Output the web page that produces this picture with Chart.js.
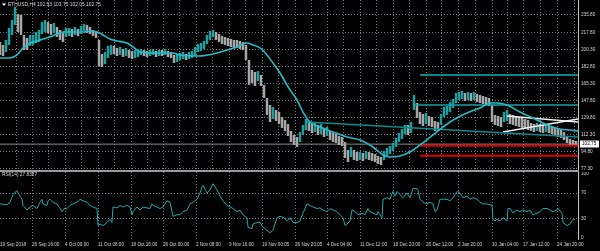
<!DOCTYPE html>
<html>
<head>
<meta charset="utf-8">
<script src="https://cdn.jsdelivr.net/npm/chart.js@4.4.1/dist/chart.umd.min.js"></script>
<style>
  html, body { margin: 0; padding: 0; background: #000; }
  #wrap { position: relative; width: 600px; height: 251px; overflow: hidden; background: #000; }
  #price { position: absolute; left: 0; top: 0; }
  #sep { position: absolute; left: 0; top: 170px; width: 579px; height: 2px; background: #9a9a9a; }
  #rsi { position: absolute; left: 0; top: 172px; }
</style>
</head>
<body>
<div id="wrap">
  <canvas id="price" width="600" height="170"></canvas>
  <div id="sep"></div>
  <canvas id="rsi" width="600" height="79"></canvas>
</div>
<script>
// ETHUSD H4, 19 Sep 2018 - 28 Jan 2019 (one sample per 3 bars)
const symbolTitle = 'ETHUSD,H4';
const lastBar = [102.53, 103.75, 102.05, 102.75]; // open high low close

const priceTicks = [77.3, 94.8, 112.3, 129.8, 147.8, 165.3, 182.8, 200.3, 217.8, 235.8];
const rsiTicks = [0, 30, 70, 100];

const timeTickX = [0, 32, 65, 98, 131, 163, 196, 229, 262, 295, 327, 360, 393, 426, 458, 492, 523, 557];
const timeLabels = ['19 Sep 2018', '26 Sep 16:00', '4 Oct 00:00', '11 Oct 08:00', '18 Oct 16:00',
  '26 Oct 00:00', '2 Nov 08:00', '9 Nov 16:00', '19 Nov 00:05', '26 Nov 20:05', '4 Dec 04:00',
  '11 Dec 12:00', '18 Dec 20:00', '26 Dec 12:00', '2 Jan 20:00', '10 Jan 04:00', '17 Jan 12:00',
  '24 Jan 20:00'];

const barStep = 3;
const barHigh = [
  207.9, 204.9, 210.0, 222.4, 230.6, 244.0, 236.8, 235.8, 215.2, 212.1,
  215.2, 215.2, 218.2, 220.3, 228.5, 230.6, 228.5, 226.5, 227.5, 223.4,
  220.3, 217.2, 222.4, 222.4, 221.3, 223.4, 221.3, 224.4, 226.5, 225.5,
  223.4, 220.3, 219.3, 210.0, 195.6, 197.6, 203.8, 204.9, 203.8, 201.8,
  202.8, 200.7, 201.8, 199.7, 198.7, 199.7, 199.7, 200.7, 199.7, 198.7,
  199.7, 200.7, 198.7, 199.7, 199.7, 200.7, 198.7, 197.6, 194.6, 195.6,
  196.6, 197.6, 195.6, 197.6, 198.7, 202.8, 205.9, 206.9, 209.0, 215.2,
  219.3, 220.3, 218.2, 216.2, 214.1, 213.1, 212.1, 211.0, 210.0, 210.0,
  209.0, 207.9, 204.9, 189.4, 179.1, 177.0, 178.1, 174.0, 163.7, 150.3,
  143.1, 141.0, 137.9, 135.8, 130.7, 127.6, 123.5, 116.3, 112.2, 110.1,
  115.2, 122.5, 128.6, 126.6, 124.5, 125.5, 122.5, 123.5, 119.4, 120.4,
  116.3, 114.2, 113.2, 111.1, 110.1, 104.9, 96.7, 99.8, 96.7, 94.6,
  94.6, 93.6, 95.7, 94.6, 93.6, 92.6, 90.5, 89.5, 95.7, 98.8,
  100.8, 103.9, 109.1, 114.2, 118.3, 122.5, 122.5, 125.5, 153.4, 145.1,
  135.8, 133.8, 134.8, 131.7, 130.7, 126.6, 125.5, 133.8, 141.0, 142.0,
  146.1, 149.2, 155.4, 156.4, 157.5, 155.4, 156.4, 155.4, 156.4, 154.4,
  153.4, 152.3, 151.3, 150.3, 143.1, 132.8, 131.7, 130.7, 135.8, 137.9,
  133.8, 132.8, 131.7, 130.7, 129.7, 128.6, 127.6, 124.5, 123.5, 124.5,
  123.5, 122.5, 122.5, 121.4, 121.4, 120.4, 118.3, 117.3, 115.2, 111.1,
  108.0, 107.0, 106.0
];
const barLow = [
  194.6, 193.5, 197.6, 204.9, 215.2, 225.5, 218.2, 215.2, 199.7, 199.7,
  203.8, 204.9, 206.9, 207.9, 216.2, 218.2, 217.2, 215.2, 217.2, 213.1,
  210.0, 207.9, 213.1, 214.1, 213.1, 215.2, 214.1, 216.2, 219.3, 217.2,
  216.2, 214.1, 212.1, 183.2, 182.2, 185.3, 191.5, 194.6, 195.6, 193.5,
  194.6, 192.5, 193.5, 191.5, 190.4, 191.5, 192.5, 194.6, 193.5, 192.5,
  193.5, 194.6, 192.5, 193.5, 193.5, 194.6, 192.5, 191.5, 186.3, 187.3,
  189.4, 190.4, 189.4, 190.4, 191.5, 193.5, 197.6, 198.7, 200.7, 205.9,
  210.0, 213.1, 210.0, 207.9, 205.9, 204.9, 203.8, 202.8, 201.8, 201.8,
  200.7, 199.7, 189.4, 163.7, 165.7, 162.6, 167.8, 162.6, 150.3, 132.8,
  125.5, 128.6, 126.6, 123.5, 119.4, 116.3, 111.1, 104.9, 101.9, 99.8,
  104.9, 112.2, 117.3, 116.3, 114.2, 115.2, 112.2, 113.2, 110.1, 111.1,
  107.0, 104.9, 103.9, 101.9, 100.8, 88.5, 84.3, 89.5, 86.4, 85.4,
  86.4, 85.4, 87.4, 86.4, 85.4, 84.3, 82.3, 81.2, 86.4, 90.5,
  92.6, 95.7, 99.8, 104.9, 108.0, 113.2, 112.2, 114.2, 137.9, 129.7,
  123.5, 121.4, 123.5, 121.4, 120.4, 116.3, 116.3, 122.5, 130.7, 132.8,
  135.8, 140.0, 145.1, 148.2, 149.2, 147.2, 148.2, 147.2, 148.2, 146.1,
  145.1, 144.1, 143.1, 142.0, 125.5, 122.5, 121.4, 120.4, 125.5, 126.6,
  123.5, 122.5, 121.4, 120.4, 119.4, 118.3, 117.3, 116.3, 115.2, 116.3,
  115.2, 114.2, 115.2, 114.2, 113.2, 112.2, 110.1, 109.1, 107.0, 103.9,
  101.9, 101.9, 101.9
];
const barX = barHigh.map((_, i) => i * barStep);

// moving average
const maX = [0, 10, 17, 23, 30, 37, 43, 50, 57, 63, 70, 83, 90, 97, 103, 110, 117, 127, 133, 140,
  147, 167, 173, 180, 200, 213, 227, 237, 247, 253, 260, 267, 273, 280, 287, 290, 297, 303, 310, 320,
  333, 347, 360, 373, 383, 390, 400, 410, 420, 433, 450, 467, 480, 490, 497, 507, 520, 533, 547, 560,
  570, 578];
const maVal = [191.5, 191.5, 194.6, 201.8, 206.9, 209.0, 211.0, 213.1, 216.2, 218.2,
  218.2, 218.2, 219.3, 218.2, 215.2, 211.0, 209.0, 206.9, 202.8, 197.6,
  196.6, 196.6, 196.6, 194.6, 193.5, 195.6, 199.7, 202.8, 206.9, 204.9,
  201.8, 194.6, 186.3, 176.0, 163.7, 158.6, 148.2, 135.8, 125.5, 120.4,
  115.2, 110.1, 107.0, 99.8, 91.6, 89.5, 90.5, 94.6, 101.9, 112.2,
  125.5, 134.8, 140.0, 145.1, 145.1, 143.1, 135.8, 129.7, 122.5, 118.3,
  117.3, 116.3];

// RSI(14)
const rsiLast = '27.8387';
const rsiX = [0, 7, 10, 13, 17, 18, 20, 22, 23, 27,
  30, 33, 37, 40, 42, 43, 47, 48, 50, 53,
  57, 60, 62, 65, 67, 70, 73, 77, 80, 83,
  87, 90, 93, 97, 98, 100, 103, 107, 110, 112,
  113, 117, 120, 123, 127, 130, 132, 133, 137, 140,
  143, 147, 150, 152, 153, 157, 160, 163, 167, 170,
  172, 173, 177, 180, 183, 187, 190, 193, 197, 200,
  202, 203, 207, 210, 213, 217, 220, 223, 227, 230,
  233, 237, 240, 243, 247, 248, 252, 253, 257, 260,
  263, 267, 270, 273, 277, 280, 283, 287, 290, 293,
  297, 300, 303, 307, 310, 313, 317, 320, 323, 327,
  330, 333, 337, 340, 343, 345, 347, 350, 352, 355,
  358, 362, 365, 368, 370, 373, 377, 378, 382, 383,
  387, 390, 393, 395, 397, 400, 403, 407, 410, 413,
  417, 418, 420, 423, 427, 430, 433, 435, 437, 440,
  443, 447, 450, 453, 457, 460, 463, 467, 470, 473,
  477, 480, 483, 487, 492, 493, 495, 497, 500, 503,
  507, 508, 510, 513, 517, 520, 523, 527, 530, 533,
  537, 540, 543, 547, 550, 553, 557, 558, 562, 563,
  567, 570, 573, 575];
const rsiVal = [52.9, 51.5, 55.4, 67.6, 73.9, 70, 65.1, 60.2, 50.5, 43.2,
  48, 50.5, 45.6, 55.4, 60.2, 52.9, 50.5, 57.8, 60.2, 55.4,
  52.9, 45.6, 40.7, 46.6, 45.6, 50.5, 52.9, 55.4, 60.2, 57.8,
  55.4, 50.5, 48, 45.6, 18.8, 21.2, 18.8, 23.6, 28.5, 23.6,
  48, 46.6, 50.5, 48, 50.5, 48, 35.8, 40.7, 48, 43.2,
  48, 46.6, 45.6, 52.9, 50.5, 48, 45.6, 48, 57.8, 55.4,
  40.7, 33.4, 35.8, 35.8, 40.7, 43.2, 52.9, 55.4, 60.2, 70,
  79.8, 82.2, 70, 74.9, 84.6, 74.9, 65.1, 57.8, 50.5, 48,
  45.6, 40.7, 43.2, 35.8, 31, 16.3, 13.9, 21.2, 23.6, 23.6,
  16.3, 11.4, 7.5, 11.4, 31, 33.4, 31.9, 26.1, 31, 23.6,
  23.6, 26.1, 38.3, 52.9, 50.5, 48, 45.6, 46.6, 43.2, 40.7,
  45.6, 43.2, 40.7, 35.8, 31, 18.8, 21.2, 26.1, 43.2, 40.7,
  35.8, 38.3, 35.8, 45.6, 40.7, 38.3, 35.8, 40.7, 31, 60.2,
  62.7, 60.2, 72.4, 65.1, 72.4, 67.6, 62.7, 70, 62.7, 77.3,
  77.3, 74.9, 60.2, 55.4, 52.9, 55.4, 52.9, 40.7, 43.2, 60.2,
  60.2, 60.2, 57.8, 62.7, 72.4, 70, 62.7, 65.1, 60.2, 62.7,
  60.2, 55.4, 52.9, 52.9, 50.5, 28.5, 26.1, 28.5, 26.1, 31,
  26.1, 45.6, 45.6, 38.3, 43.2, 40.7, 43.2, 40.7, 43.2, 35.8,
  38.3, 40.7, 45.6, 45.6, 43.2, 40.7, 43.2, 45.6, 38.3, 23.6,
  18.8, 21.2, 28.5, 27.8];

// drawn objects: horizontal levels and trend lines (bar index, price)
const levelFrom = [420, 413, 420, 420];
const levelPrice = [174.0, 143.1, 101.0, 90.8];
const trendFrom = [307, 507, 503];
const trendTo = [578, 578, 578];
const trendFromPrice = [125.5, 131.7, 115.2];
const trendToPrice = [110.1, 125.5, 128.6];

const lastX = 578;
const GRID = 'rgba(135,145,158,0.85)';
const TXT = '#d4d4d4';
const FONT = "'Liberation Sans', Arial, sans-serif";
const GRAY = '#a6a6a6';
const TEAL = '#1c9f9f';

const barColors = barHigh.map((h, i) => {
  if (i === 0) return GRAY;
  const mid = (h + barLow[i]) / 2;
  const prev = (barHigh[i - 1] + barLow[i - 1]) / 2;
  return mid > prev ? TEAL : GRAY;
});

// main pane grid: every time tick plus half-way lines
const mainGridX = [];
timeTickX.forEach((t, i) => {
  if (t > 0) mainGridX.push(t);
  const next = i + 1 < timeTickX.length ? timeTickX[i + 1] : t + (t - timeTickX[i - 1]);
  mainGridX.push((t + next) / 2);
});

const levelColors = ['#0b8787', '#17a3a3', '#dc0000', '#dc0000'];
const levelWidths = [2, 1.6, 2, 2];
const trendColors = ['#0d8a8a', '#f2f2f2', '#f2f2f2'];

const lineSet = (data, color, width, order) => ({
  type: 'line', data, borderColor: color, borderWidth: width,
  pointRadius: 0, fill: false, tension: 0, order
});

const priceSets = [];
priceSets.push(Object.assign(lineSet(maX.map((x, i) => ({ x, y: maVal[i] })), '#22bcc8', 1.6, 1),
  { cubicInterpolationMode: 'monotone' }));
trendFrom.forEach((x0, i) => {
  priceSets.push(lineSet([{ x: x0, y: trendFromPrice[i] }, { x: trendTo[i], y: trendToPrice[i] }],
    trendColors[i], 1.5, 1));
});
levelFrom.forEach((x0, i) => {
  priceSets.push(lineSet([{ x: x0, y: levelPrice[i] }, { x: lastX, y: levelPrice[i] }],
    levelColors[i], levelWidths[i], 2));
});
priceSets.push({
  type: 'bar',
  data: barX.map((x, i) => ({ x, y: [barLow[i], barHigh[i]] })),
  backgroundColor: barColors,
  barThickness: 2.5,
  borderWidth: 0,
  inflateAmount: 0,
  order: 5
});
priceSets.push(lineSet([{ x: 0, y: lastBar[3] }, { x: lastX, y: lastBar[3] }], '#8a8a8a', 1, 8));

// keep the plot area flush with the canvas edges
const noPad = s => { s.paddingTop = 0; s.paddingBottom = 0; s.paddingLeft = 0; s.paddingRight = 0; };

const headerPlugin = {
  id: 'header',
  afterDraw(chart) {
    const ctx = chart.ctx;
    ctx.save();
    ctx.fillStyle = '#ffffff';
    ctx.beginPath();
    ctx.moveTo(2, 3.5); ctx.lineTo(6, 3.5); ctx.lineTo(4, 6);
    ctx.closePath(); ctx.fill();
    ctx.fillStyle = TXT;
    ctx.font = '4.9px ' + FONT;
    ctx.textBaseline = 'middle';
    ctx.fillText(symbolTitle + ' ' + lastBar.map(v => v.toFixed(2)).join(' '), 8, 5);
    // current price box on the axis
    const y = chart.scales.y.getPixelForValue(lastBar[3]);
    ctx.fillStyle = '#ffffff';
    ctx.fillRect(580, Math.round(y) - 3.5, 19, 7);
    ctx.fillStyle = '#000000';
    ctx.font = '4.7px ' + FONT;
    ctx.fillText(lastBar[3].toFixed(2), 582, y);
    ctx.restore();
  }
};

new Chart(document.getElementById('price'), {
  type: 'line',
  data: { datasets: priceSets },
  options: {
    responsive: false,
    animation: false,
    events: [],
    layout: { padding: 0 },
    plugins: { legend: { display: false }, tooltip: { enabled: false } },
    scales: {
      x: {
        type: 'linear', min: 0, max: lastX, offset: false,
        afterBuildTicks: s => { s.ticks = mainGridX.map(v => ({ value: v })); },
        afterFit: s => { s.height = 0; noPad(s); },
        ticks: { display: false },
        grid: { color: GRID, drawTicks: false, offset: false },
        border: { display: false, dash: [1, 2] }
      },
      y: {
        type: 'linear', position: 'right', min: 76.1, max: 251.2,
        afterBuildTicks: s => { s.ticks = priceTicks.map(v => ({ value: v })); },
        afterFit: s => { s.width = 22; noPad(s); },
        ticks: { color: TXT, font: { size: 4.7, family: FONT }, padding: 3, callback: v => v.toFixed(2) },
        grid: { color: GRID, drawTicks: false },
        border: { display: true, color: '#c4c4c4', width: 1, dash: [1, 2] }
      }
    }
  },
  plugins: [headerPlugin]
});

const rsiLabelPlugin = {
  id: 'rsiLabel',
  afterDraw(chart) {
    const ctx = chart.ctx;
    ctx.save();
    ctx.fillStyle = TXT;
    ctx.font = '4.8px ' + FONT;
    ctx.textBaseline = 'middle';
    ctx.fillText('RSI(14) ' + rsiLast, 2, 3);
    ctx.restore();
  }
};

new Chart(document.getElementById('rsi'), {
  type: 'line',
  data: {
    datasets: [lineSet(rsiX.map((x, i) => ({ x, y: rsiVal[i] })), '#1fa9ab', 1, 1)]
  },
  options: {
    responsive: false,
    animation: false,
    events: [],
    layout: { padding: 0 },
    plugins: { legend: { display: false }, tooltip: { enabled: false } },
    scales: {
      x: {
        type: 'linear', min: 0, max: lastX, offset: false,
        afterBuildTicks: s => { s.ticks = timeTickX.map(v => ({ value: v })); },
        afterFit: s => { s.height = 12; noPad(s); },
        ticks: {
          color: TXT, font: { size: 4.6, family: FONT }, align: 'start', autoSkip: false,
          maxRotation: 0, minRotation: 0, padding: 3,
          callback: (v, i) => timeLabels[i]
        },
        grid: { color: c => (c.index === 0 ? 'rgba(0,0,0,0)' : GRID), drawTicks: false, offset: false },
        border: { display: false, dash: [1, 2] }
      },
      y: {
        type: 'linear', position: 'right', min: -2.4, max: 103.1,
        afterBuildTicks: s => { s.ticks = rsiTicks.map(v => ({ value: v })); },
        afterFit: s => { s.width = 22; noPad(s); },
        ticks: { color: TXT, font: { size: 4.7, family: FONT }, padding: 3 },
        grid: {
          color: c => (c.tick && (c.tick.value === 30 || c.tick.value === 70) ? GRID : 'rgba(0,0,0,0)'),
          drawTicks: false
        },
        border: { display: true, color: '#c4c4c4', width: 1, dash: [1, 2] }
      }
    }
  },
  plugins: [rsiLabelPlugin]
});
</script>
</body>
</html>
